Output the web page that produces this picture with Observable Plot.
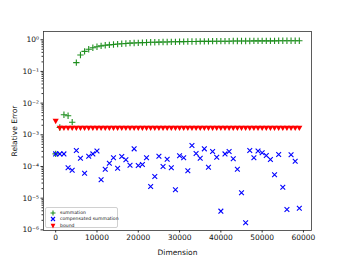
<!DOCTYPE html>
<html><head><meta charset="utf-8">
<script src="https://cdn.jsdelivr.net/npm/d3@7"></script>
<script src="https://cdn.jsdelivr.net/npm/@observablehq/plot@0.6"></script>
<style>
body{margin:0;background:#fff;}
#wrap{position:relative;width:346px;height:260px;font-family:"DejaVu Sans",sans-serif;}
#legend{position:absolute;left:45px;top:207px;width:73px;height:21px;border:0.8px solid #d0d0d0;border-radius:2px;background:rgba(255,255,255,0.85);font-size:4.6px;color:#111;box-sizing:border-box;}
.row{position:absolute;left:0;height:6px;display:flex;align-items:center;}
.row svg{position:absolute;left:4px;top:0;}
.row span{position:absolute;left:14px;white-space:nowrap;line-height:6px;}
</style></head>
<body><div id="wrap"><div id="chart"></div>
<div id="legend"></div></div>
<script>
const dims = [0,1000,2000,3000,4000,5000,6000,7000,8000,9000,10000,11000,12000,13000,14000,15000,16000,17000,18000,19000,20000,21000,22000,23000,24000,25000,26000,27000,28000,29000,30000,31000,32000,33000,34000,35000,36000,37000,38000,39000,40000,41000,42000,43000,44000,45000,46000,47000,48000,49000,50000,51000,52000,53000,54000,55000,56000,57000,58000,59000];
const summation = [2.5e-4,1.7e-3,4.3e-3,4.0e-3,2.5e-3,0.19,0.33,0.43,0.50,0.56,0.60,0.64,0.67,0.69,0.71,0.73,0.75,0.76,0.78,0.79,0.80,0.81,0.82,0.83,0.83,0.84,0.85,0.85,0.86,0.86,0.87,0.87,0.88,0.88,0.88,0.89,0.89,0.89,0.90,0.90,0.90,0.90,0.90,0.91,0.91,0.91,0.91,0.91,0.92,0.92,0.92,0.92,0.92,0.92,0.93,0.93,0.93,0.93,0.93,0.93];
const compensated = [2.5e-4,2.5e-4,2.5e-4,9.1e-5,7.6e-5,3.2e-4,1.82e-4,6.1e-5,2.1e-4,2.5e-4,3.1e-4,3.8e-5,8.2e-5,1.27e-4,1.88e-4,8.8e-5,2.07e-4,1.63e-4,1.1e-4,3.6e-4,1.07e-4,1.15e-4,1.88e-4,2.33e-5,4.8e-5,2.1e-4,1.0e-4,1.7e-4,9.1e-5,1.84e-5,2.17e-4,1.9e-4,7.3e-5,4.6e-4,2.57e-4,1.82e-4,3.6e-4,9.5e-5,2.97e-4,1.96e-4,3.9e-6,2.5e-4,2.97e-4,1.75e-4,8.2e-5,1.48e-5,1.67e-6,3.2e-4,1.88e-4,3.1e-4,2.7e-4,2.22e-4,1.66e-4,5.5e-5,2.39e-4,2.22e-5,4.4e-6,2.34e-4,1.47e-4,4.8e-6];
const bound = [2.8e-3,1.7e-3,1.7e-3,1.7e-3,1.7e-3,1.7e-3,1.7e-3,1.7e-3,1.7e-3,1.7e-3,1.7e-3,1.7e-3,1.7e-3,1.7e-3,1.7e-3,1.7e-3,1.7e-3,1.7e-3,1.7e-3,1.7e-3,1.7e-3,1.7e-3,1.7e-3,1.7e-3,1.7e-3,1.7e-3,1.7e-3,1.7e-3,1.7e-3,1.7e-3,1.7e-3,1.7e-3,1.7e-3,1.7e-3,1.7e-3,1.7e-3,1.7e-3,1.7e-3,1.7e-3,1.7e-3,1.7e-3,1.7e-3,1.7e-3,1.7e-3,1.7e-3,1.7e-3,1.7e-3,1.7e-3,1.7e-3,1.7e-3,1.7e-3,1.7e-3,1.7e-3,1.7e-3,1.7e-3,1.7e-3,1.7e-3,1.7e-3,1.7e-3,1.7e-3];
const xTicks = [0,10000,20000,30000,40000,50000,60000];
const yTicks = [1e-6,1e-5,1e-4,1e-3,1e-2,1e-1,1];
const seriesNames = ["summation","compensated summation","bound"];
const colors = {summation:"#1f8f1f", comp:"#0000ff", bound:"#ff0000"};

const sup = {"-":"\u207B","0":"\u2070","1":"\u00B9","2":"\u00B2","3":"\u00B3","4":"\u2074","5":"\u2075","6":"\u2076","7":"\u2077","8":"\u2078","9":"\u2079"};
const fmtPow = v => "10" + String(Math.round(Math.log10(v))).split("").map(c => sup[c]).join("");
const minor = [];
for (let e = -7; e <= 0; e++) for (let m = 2; m <= 9; m++) minor.push(m * Math.pow(10, e));

const rows = dims.map((d, i) => ({d, s: summation[i], c: compensated[i], b: bound[i]}));

const chart = Plot.plot({
  width: 346, height: 260,
  marginLeft: 43, marginRight: 35, marginTop: 31, marginBottom: 30,
  style: {fontFamily: "DejaVu Sans, sans-serif", fontSize: "7.5px", color: "#111", background: "#fff"},
  x: {domain: [-2950, 61950]},
  y: {type: "log", domain: [Math.pow(10, -6.02), Math.pow(10, 0.26)]},
  marks: [
    Plot.axisY({ticks: minor.filter(v => v > 1e-6 && v < 1.8), tickSize: 1.5, text: null, stroke: "#333"}),
    Plot.axisY({ticks: yTicks, tickSize: 2.5, tickPadding: 2, tickFormat: fmtPow, stroke: "#333",
      label: "Relative Error", labelAnchor: "center", labelArrow: "none", labelOffset: 32}),
    Plot.axisX({ticks: xTicks, tickSize: 2.5, tickPadding: 2, tickFormat: d3.format("d"), stroke: "#333",
      label: "Dimension", labelAnchor: "center", labelArrow: "none", labelOffset: 24}),
    Plot.dot(rows, {x: "d", y: "s", symbol: "plus", r: 2.2, stroke: colors.summation, strokeWidth: 1.1}),
    Plot.dot(rows, {x: "d", y: "c", symbol: "times", r: 2.3, stroke: colors.comp, strokeWidth: 1.1}),
    Plot.dot(rows, {x: "d", y: "b", symbol: "triangle", rotate: 180, r: 2.3, fill: colors.bound, stroke: "none"}),
    Plot.frame({stroke: "#333", strokeWidth: 0.8})
  ]
});
document.getElementById("chart").appendChild(chart);

const leg = document.getElementById("legend");
const syms = [
  `<svg width="6" height="6"><path d="M3,0.5V5.5M0.5,3H5.5" stroke="${colors.summation}" stroke-width="1.1"/></svg>`,
  `<svg width="6" height="6"><path d="M1,1L5,5M5,1L1,5" stroke="${colors.comp}" stroke-width="1.1"/></svg>`,
  `<svg width="6" height="6"><path d="M0.6,0.8H5.4L3,5.4Z" fill="${colors.bound}"/></svg>`
];
seriesNames.forEach((n, i) => {
  const r = document.createElement("div");
  r.className = "row";
  r.style.top = (1.7 + i * 6.7) + "px";
  r.innerHTML = syms[i] + `<span>${n}</span>`;
  leg.appendChild(r);
});
</script></body></html>
